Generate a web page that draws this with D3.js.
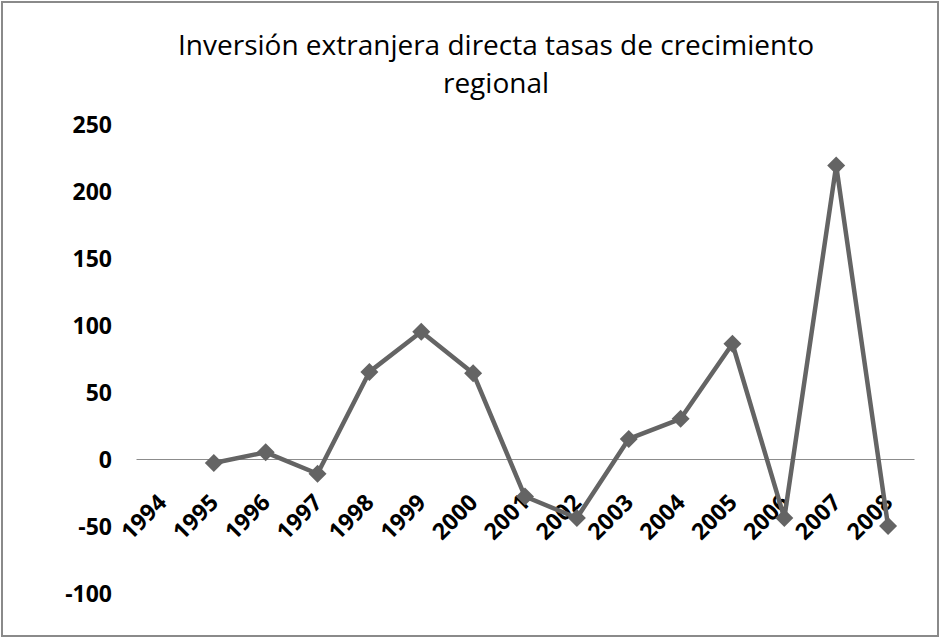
<!DOCTYPE html>
<html lang="es">
  <head>
    <meta charset="UTF-8" />
    <title>Inversión extranjera directa</title>
    <style>
      body {
        margin: 0;
        background: #fff;
      }
      svg {
        display: block;
      }
      .title {
        font-family: "Open Sans", sans-serif;
        font-size: 28px;
        fill: #000;
      }
      .tick text {
        font-family: "Open Sans", sans-serif;
        font-size: 23px;
        font-weight: bold;
        fill: #000;
      }
    </style>
  </head>

  <body>
    <div class="container"></div>

    <script src="https://d3js.org/d3.v7.min.js"></script>
    <script>
      // datos
      const years = [1994, 1995, 1996, 1997, 1998, 1999, 2000, 2001, 2002, 2003, 2004, 2005, 2006, 2007, 2008];
      const growth = [null, -3, 5, -11, 65, 95, 64, -28, -44, 15, 30, 86, -44, 219, -50];
      const yTicks = [-100, -50, 0, 50, 100, 150, 200, 250];
      const titleLines = ["Inversión extranjera directa tasas de crecimiento", "regional"];

      const W = 941,
        H = 639;

      const svg = d3.select(".container").append("svg").attr("width", W).attr("height", H);

      // marco
      svg
        .append("rect")
        .attr("x", 2)
        .attr("y", 2)
        .attr("width", W - 5)
        .attr("height", H - 5)
        .attr("fill", "#fff")
        .attr("stroke", "#8a8a8a")
        .attr("stroke-width", 2);

      // titulo
      svg
        .selectAll(".title")
        .data(titleLines)
        .enter()
        .append("text")
        .attr("class", "title")
        .attr("x", 496)
        .attr("y", (d, i) => 55 + i * 38)
        .attr("text-anchor", "middle")
        .text((d) => d);

      // escalas
      const scX = d3.scaleBand().domain(years).range([136, 914]);
      const scY = d3.scaleLinear().domain([-100, 250]).range([593, 124]);
      const cx = (y) => scX(y) + scX.bandwidth() / 2;

      // eje Y (solo etiquetas), guion normal como en el original
      const yAxis = svg
        .append("g")
        .attr("transform", "translate(112,0)")
        .call(
          d3
            .axisLeft(scY)
            .tickValues(yTicks)
            .tickFormat((d) => String(d))
            .tickSize(0)
            .tickPadding(0)
        );
      yAxis.select(".domain").remove();
      yAxis.selectAll(".tick text").attr("dy", "0.36em");

      // eje X en el cero
      const xAxis = svg
        .append("g")
        .attr("transform", `translate(0,${scY(0)})`)
        .call(d3.axisBottom(scX).tickSize(0).tickSizeOuter(0));
      xAxis.select(".domain").attr("stroke", "#8c8c8c").attr("stroke-width", 1);
      xAxis
        .selectAll(".tick text")
        .attr("y", null)
        .attr("dy", null)
        .attr("text-anchor", "end")
        .attr("transform", "translate(6,45) rotate(-45)");

      // serie
      const pts = years.map((y, i) => ({ year: y, v: growth[i] })).filter((d) => d.v !== null);

      const line = d3
        .line()
        .x((d) => cx(d.year))
        .y((d) => scY(d.v));

      svg
        .append("path")
        .datum(pts)
        .attr("d", line)
        .attr("fill", "none")
        .attr("stroke", "#646464")
        .attr("stroke-width", 4.5)
        .attr("stroke-linejoin", "round");

      svg
        .selectAll(".marker")
        .data(pts)
        .enter()
        .append("path")
        .attr("class", "marker")
        .attr("d", "M0,-9L9,0L0,9L-9,0Z")
        .attr("fill", "#646464")
        .attr("transform", (d) => `translate(${cx(d.year)},${scY(d.v)})`);
    </script>
  </body>
</html>
